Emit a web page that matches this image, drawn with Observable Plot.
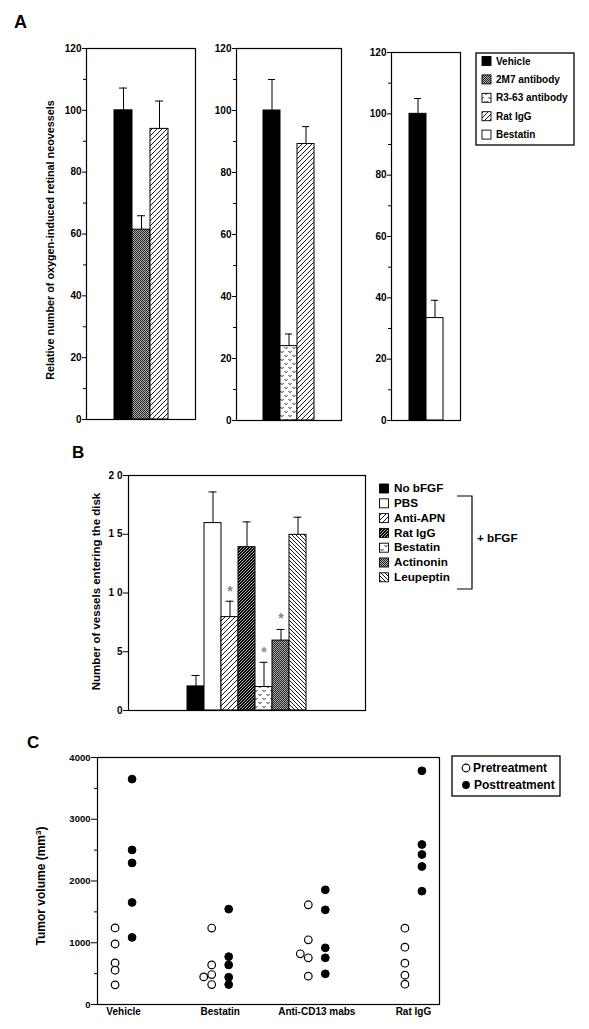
<!DOCTYPE html>
<html><head><meta charset="utf-8">
<script src="https://cdn.jsdelivr.net/npm/d3@7"></script>
<script src="https://cdn.jsdelivr.net/npm/@observablehq/plot@0.6"></script>
<style>
body{margin:0;background:#fff;}
#root{position:relative;width:589px;height:1029px;overflow:hidden;font-family:"Liberation Sans",Arial,sans-serif;font-weight:bold;color:#000;background:#fff;}
#overlay{position:absolute;left:0;top:0;z-index:2;pointer-events:none;}
</style></head><body>
<div id="root">
<svg id="overlay" width="589" height="1029" font-family="Liberation Sans, Arial, sans-serif" font-weight="bold">
<defs>
  <pattern id="stip" width="2" height="2" patternUnits="userSpaceOnUse">
    <rect width="2" height="2" fill="#b0b0b0"/>
    <rect width="1" height="1" fill="#222"/>
    <rect x="1" y="1" width="1" height="1" fill="#222"/>
  </pattern>
  <pattern id="diag" width="5" height="5" patternUnits="userSpaceOnUse">
    <rect width="5" height="5" fill="#fff"/>
    <path d="M-1,1 L1,-1 M0,5 L5,0 M4,6 L6,4" stroke="#000" stroke-width="0.9"/>
  </pattern>
  <pattern id="back" width="4" height="4" patternUnits="userSpaceOnUse">
    <rect width="4" height="4" fill="#fff"/>
    <path d="M0,0 L4,4 M-1,3 L1,5 M3,-1 L5,1" stroke="#000" stroke-width="0.9"/>
  </pattern>
  <pattern id="dense" width="3" height="3" patternUnits="userSpaceOnUse">
    <rect width="3" height="3" fill="#000"/>
    <path d="M0,3 L3,0 M-1,1 L1,-1 M2,4 L4,2" stroke="#fff" stroke-width="0.7"/>
  </pattern>
  <pattern id="zig" width="8" height="8" patternUnits="userSpaceOnUse">
    <rect width="8" height="8" fill="#fff"/>
    <path d="M0.5,1 l1.5,1.8 M3.5,1 l-1.2,1.6 M4.5,5 l1.5,1.8 M7.5,5 l-1.2,1.6" stroke="#000" stroke-width="0.8" fill="none"/>
  </pattern>
</defs>
</svg>
</div>
<script>
// ---------- Panel A data ----------
const a1Cats = ["Vehicle", "2M7 antibody", "Rat IgG"];
const a1Vals = [100, 61.4, 94];
const a1Errs = [107.2, 65.9, 103];
const a2Cats = ["Vehicle", "R3-63 antibody", "Rat IgG"];
const a2Vals = [100, 24, 89.2];
const a2Errs = [110, 27.9, 94.8];
const a3Cats = ["Vehicle", "Bestatin"];
const a3Vals = [100, 33.4];
const a3Errs = [105, 39.2];
const aLegend = ["Vehicle", "2M7 antibody", "R3-63 antibody", "Rat IgG", "Bestatin"];
const aTicks = [0, 20, 40, 60, 80, 100, 120];
const aMinor = [10, 30, 50, 70, 90, 110];
const aLabel = "Relative number of oxygen-induced retinal neovessels";

// ---------- Panel B data ----------
const bCats = ["No bFGF", "PBS", "Anti-APN", "Rat IgG", "Bestatin", "Actinonin", "Leupeptin"];
const bVals = [2.05, 15.95, 7.95, 13.9, 2.0, 5.95, 14.95];
const bErrs = [2.98, 18.6, 9.3, 16.05, 4.1, 6.9, 16.45];
const bStarCats = ["Anti-APN", "Bestatin", "Actinonin"];
const bStarY = [10.5, 5.3, 8.2];
const bTicks = [0, 5, 10, 15, 20];
const bTickLabels = ["0", "5", "1 0", "1 5", "2 0"];
const bLabel = "Number of vessels entering the disk";

// ---------- Panel C data ----------
const cGroups = ["Vehicle", "Bestatin", "Anti-CD13 mabs", "Rat IgG"];
const cPre = [
  [1240, 980, 673, 555, 318],
  [1238, 641, 485, 447, 323],
  [1615, 1048, 756, 821, 459],
  [1236, 928, 669, 475, 329]
];
const cPreNudged = [[], [3], [3], []]; // indices of pre points drawn slightly left (overlap)
const cPost = [
  [3650, 2503, 2293, 1653, 1087],
  [1545, 775, 641, 441, 323],
  [1857, 1533, 918, 756, 497],
  [3785, 2591, 2429, 2235, 1835]
];
const cTicks = [0, 1000, 2000, 3000, 4000];
const cMinor = [500, 1500, 2500, 3500];

// ---------- styles ----------
const aFill = {"Vehicle": "#000", "2M7 antibody": "url(#stip)", "R3-63 antibody": "url(#zig)", "Rat IgG": "url(#diag)", "Bestatin": "#fff"};
const bFill = {"No bFGF": "#000", "PBS": "#fff", "Anti-APN": "url(#diag)", "Rat IgG": "url(#dense)", "Bestatin": "url(#zig)", "Actinonin": "url(#stip)", "Leupeptin": "url(#back)"};
const FONT = "Liberation Sans, Arial, sans-serif";
const root = document.getElementById("root");

function place(node, left, top) {
  node.style.position = "absolute";
  node.style.left = left + "px";
  node.style.top = top + "px";
  node.style.zIndex = 1;
  node.style.maxWidth = "none";
  root.appendChild(node);
}

function barChart(o) {
  const data = o.cats.map((c, i) => ({c, v: o.vals[i], e: o.errs[i]}));
  const marks = [
    Plot.barY(data, {x: "c", y: "v", fill: "c", stroke: "#000", strokeWidth: 1}),
    Plot.ruleX(data, {x: "c", y1: "v", y2: "e", stroke: "#000", strokeWidth: 1}),
    Plot.tickY(data, {x: "c", y: "e", stroke: "#000", strokeWidth: 1, insetLeft: o.capInset, insetRight: o.capInset}),
    Plot.axisY({ticks: o.ticks, tickSize: o.tickSize, tickPadding: 1, tickFormat: o.fmt, label: null, fontSize: o.fontSize, fontWeight: "bold", strokeWidth: 1})
  ];
  if (o.minor) marks.push(Plot.axisY({ticks: o.minor, tickSize: o.minorSize, tickFormat: () => "", label: null, strokeWidth: 1}));
  if (o.stars) marks.push(Plot.text(o.stars, {x: "c", y: "y", text: () => "*", fill: "#888", fontSize: 14, dy: 4}));
  marks.push(Plot.frame({stroke: "#000", strokeWidth: 1.2}));
  return Plot.plot({
    width: o.ml + o.w + o.mr, height: o.mt + o.h + o.mb,
    marginLeft: o.ml, marginRight: o.mr, marginTop: o.mt, marginBottom: o.mb,
    x: {type: "band", domain: o.cats, paddingInner: 0, paddingOuter: o.padOuter, axis: null},
    y: {domain: o.yDomain},
    color: {type: "ordinal", domain: o.cats, range: o.cats.map(c => o.fills[c])},
    style: {fontFamily: FONT, fontWeight: "bold", fontSize: o.fontSize + "px", background: "transparent", overflow: "visible", color: "#000"},
    marks
  });
}

// Panel A subpanels
place(barChart({cats: a1Cats, vals: a1Vals, errs: a1Errs, fills: aFill, ml: 32, mr: 4, mt: 6, mb: 6, w: 109, h: 371,
  padOuter: 1.5, yDomain: [0, 120], ticks: aTicks, minor: aMinor, tickSize: 4, minorSize: 3, fontSize: 10, capInset: 5}), 54, 42);
place(barChart({cats: a2Cats, vals: a2Vals, errs: a2Errs, fills: aFill, ml: 32, mr: 4, mt: 6, mb: 6, w: 105, h: 372,
  padOuter: 1.5, yDomain: [0, 120], ticks: aTicks, minor: aMinor, tickSize: 4, minorSize: 3, fontSize: 10, capInset: 5}), 204, 42);
place(barChart({cats: a3Cats, vals: a3Vals, errs: a3Errs, fills: aFill, ml: 32, mr: 4, mt: 6, mb: 6, w: 69, h: 368,
  padOuter: 1, yDomain: [0, 120], ticks: aTicks, minor: aMinor, tickSize: 4, minorSize: 3, fontSize: 10, capInset: 5}), 359, 46);

// Panel B
const bStars = bStarCats.map((c, i) => ({c, y: bStarY[i]}));
place(barChart({cats: bCats, vals: bVals, errs: bErrs, fills: bFill, ml: 30, mr: 4, mt: 6, mb: 6, w: 237, h: 235,
  padOuter: 3.45, yDomain: [0, 20], ticks: bTicks, fmt: (d) => bTickLabels[bTicks.indexOf(d)], tickSize: 5, fontSize: 10, capInset: 4.5, stars: bStars}), 98, 469);

// Panel C
const cData = [];
cGroups.forEach((g, gi) => {
  cPre[gi].forEach((v, k) => cData.push({gi, v, phase: "pre", nudged: cPreNudged[gi].includes(k)}));
  cPost[gi].forEach(v => cData.push({gi, v, phase: "post", nudged: false}));
});
const cPlot = Plot.plot({
  width: 36 + 342 + 4, height: 6 + 247 + 22,
  marginLeft: 36, marginRight: 4, marginTop: 6, marginBottom: 22,
  x: {type: "linear", domain: [-0.27, 3.27]},
  y: {domain: [0, 4000]},
  style: {fontFamily: FONT, fontWeight: "bold", fontSize: "10px", background: "transparent", overflow: "visible", color: "#000"},
  marks: [
    Plot.axisY({ticks: cTicks, tickSize: 6, tickPadding: 1, label: null, tickFormat: d => String(d), fontSize: 9.5, strokeWidth: 1}),
    Plot.axisY({ticks: cMinor, tickSize: 3, tickFormat: () => "", label: null, strokeWidth: 1}),
    Plot.axisX({ticks: [0, 1, 2, 3], tickSize: 0, tickPadding: 3, tickFormat: i => cGroups[i], label: null, fontSize: 10}),
    Plot.dot(cData.filter(d => d.phase === "pre" && !d.nudged), {x: "gi", y: "v", r: 3.8, fill: "#fff", stroke: "#000", strokeWidth: 1.2, dx: -8.5}),
    Plot.dot(cData.filter(d => d.phase === "pre" && d.nudged), {x: "gi", y: "v", r: 3.8, fill: "#fff", stroke: "#000", strokeWidth: 1.2, dx: -16.5}),
    Plot.dot(cData.filter(d => d.phase === "post"), {x: "gi", y: "v", r: 3.9, fill: "#000", stroke: "#000", strokeWidth: 1, dx: 8.5}),
    Plot.frame({stroke: "#000", strokeWidth: 1.2})
  ]
});
place(cPlot, 61, 751);

// ---------- Overlay texts / legends ----------
const ov = d3.select("#overlay");
function txt(x, y, s, size, anchor = "start") {
  return ov.append("text").attr("x", x).attr("y", y).attr("font-size", size).attr("text-anchor", anchor).attr("fill", "#000").text(s);
}
function rotLabel(x, y, s, size) {
  return ov.append("text").attr("transform", `translate(${x},${y}) rotate(-90)`).attr("font-size", size).attr("text-anchor", "middle").attr("fill", "#000").text(s);
}
// Panel letters
txt(14, 28, "A", 18);
txt(72, 458, "B", 17);
txt(27, 748, "C", 17);
// Y labels
rotLabel(54, 240, aLabel, 10.8);
rotLabel(100, 591.5, bLabel, 11.5);
const cl = ov.append("text").attr("transform", "translate(45,886) rotate(-90)").attr("font-size", 12).attr("text-anchor", "middle").attr("fill", "#000");
cl.append("tspan").text("Tumor volume (mm");
cl.append("tspan").attr("baseline-shift", "super").attr("font-size", 8).text("3");
cl.append("tspan").text(")");

// Legend A
ov.append("rect").attr("x", 476).attr("y", 53).attr("width", 98).attr("height", 92).attr("fill", "none").attr("stroke", "#000").attr("stroke-width", 1.3);
aLegend.forEach((c, i) => {
  const cy = 61 + i * 18.4;
  ov.append("rect").attr("x", 482).attr("y", cy - 4.5).attr("width", 9).attr("height", 9).attr("fill", aFill[c]).attr("stroke", "#000").attr("stroke-width", 0.9);
  txt(496, cy + 3.6, c, 10);
});

// Legend B
bCats.forEach((c, i) => {
  const cy = 488 + i * 14.8;
  ov.append("rect").attr("x", 379.5).attr("y", cy - 4).attr("width", 9).attr("height", 9).attr("fill", bFill[c]).attr("stroke", "#000").attr("stroke-width", 0.9);
  txt(394, cy + 4.2, c, 11.7);
});
ov.append("path").attr("d", "M457,496 H472 V589 H457").attr("fill", "none").attr("stroke", "#000").attr("stroke-width", 1.2);
txt(477, 541.5, "+ bFGF", 11.7);

// Legend C
ov.append("rect").attr("x", 452).attr("y", 756).attr("width", 108).attr("height", 40).attr("fill", "none").attr("stroke", "#000").attr("stroke-width", 1.3);
ov.append("circle").attr("cx", 466).attr("cy", 768).attr("r", 3.8).attr("fill", "#fff").attr("stroke", "#000").attr("stroke-width", 1.2);
txt(473, 772.3, "Pretreatment", 12);
ov.append("circle").attr("cx", 466).attr("cy", 785).attr("r", 3.9).attr("fill", "#000");
txt(474, 789.3, "Posttreatment", 12);
</script>
</body></html>
